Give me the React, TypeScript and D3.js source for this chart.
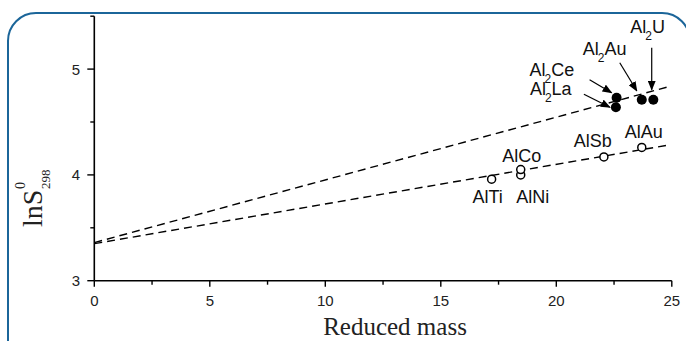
import React from 'react';
import * as d3 from 'd3';

// Al2X compounds (filled circles) and AlX compounds (open circles)
const filledNames = ['La', 'Ce', 'Au', 'U'];
const filledX = [22.58, 22.61, 23.7, 24.2];
const filledY = [4.64, 4.73, 4.71, 4.71];

const openNames = ['AlTi', 'AlNi', 'AlCo', 'AlSb', 'AlAu'];
const openX = [17.2, 18.46, 18.46, 22.06, 23.7];
const openY = [3.96, 4.0, 4.05, 4.17, 4.26];

// dashed fit lines
const fitX = [0, 24.8];
const upperFitY = [3.36, 4.83];
const lowerFitY = [3.35, 4.28];

const xTicks = [0, 5, 10, 15, 20, 25];
const yTicks = [3, 4, 5];

// label offsets from each point (px)
const filledLabelOff = [[-86, -12], [-87, -22], [-59, -45], [-23, -67]];
const filledArrowOff = [
  [[-32, -13], [-6, 0]],
  [[-27, -18], [-5, -5]],
  [[-22, -37], [-5, -9]],
  [[-1.6, -52], [-1.6, -10]],
];
const openLabelOff = [[-4, 24], [12, 28], [1, -8], [-11, -10], [2, -9]];

function App() {
  const x = d3.scaleLinear().domain([0, 25]).range([94.3, 671.8]);
  const y = d3.scaleLinear().domain([3, 5.5]).range([280.7, 16.2]);
  const fit = (ys: number[]) =>
    d3.line<number>().x((d) => x(d)).y((d, i) => y(ys[i]))(fitX) || '';

  const minorX = d3.range(2.5, 25, 5);
  const minorY = d3.range(3.5, 5.6, 1);
  const sans = "'Liberation Sans', Arial, sans-serif";
  const serif = "'Liberation Serif', 'Times New Roman', serif";

  return (
    <svg width={686} height={341} style={{ position: 'absolute', left: 0, top: 0 }}>
      <defs>
        <marker id="arr" markerUnits="userSpaceOnUse" markerWidth={10} markerHeight={8}
          refX={9} refY={4} orient="auto">
          <path d="M0,0 L10,4 L0,8 Z" fill="#000" />
        </marker>
      </defs>
      <rect x={8} y={13} width={682} height={420} rx={28} ry={28}
        fill="none" stroke="#1b6599" strokeWidth={2} />

      {/* fit lines */}
      <path d={fit(upperFitY)} fill="none" stroke="#000" strokeWidth={1.4} strokeDasharray="8,5" />
      <path d={fit(lowerFitY)} fill="none" stroke="#000" strokeWidth={1.4} strokeDasharray="8,5" />

      {/* axes */}
      <line x1={x(0)} x2={x(25)} y1={y(3)} y2={y(3)} stroke="#000" strokeWidth={1.6} />
      <line x1={x(0)} x2={x(0)} y1={y(3)} y2={y(5.5)} stroke="#000" strokeWidth={1.6} />
      {xTicks.map((t) => (
        <g key={'xt' + t}>
          <line x1={x(t)} x2={x(t)} y1={y(3)} y2={y(3) + 6} stroke="#000" strokeWidth={1.4} />
          <text x={x(t)} y={306} textAnchor="middle" fontFamily={sans} fontSize={15} fill="#222">{t}</text>
        </g>
      ))}
      {minorX.map((t) => (
        <line key={'xm' + t} x1={x(t)} x2={x(t)} y1={y(3)} y2={y(3) + 4} stroke="#000" strokeWidth={1.4} />
      ))}
      {yTicks.map((t) => (
        <g key={'yt' + t}>
          <line x1={x(0) - 7} x2={x(0)} y1={y(t)} y2={y(t)} stroke="#000" strokeWidth={1.4} />
          <text x={80} y={y(t) + 5.5} textAnchor="end" fontFamily={sans} fontSize={15} fill="#222">{t}</text>
        </g>
      ))}
      {minorY.map((t) => (
        <line key={'ym' + t} x1={x(0) - 4} x2={x(0)} y1={y(t)} y2={y(t)} stroke="#000" strokeWidth={1.4} />
      ))}

      {/* axis titles */}
      <text x={395} y={335} textAnchor="middle" fontFamily={serif} fontSize={25} fill="#222">Reduced mass</text>
      <g transform="translate(42,227) rotate(-90)" fontFamily={serif} fill="#222">
        <text x={0} y={0} fontSize={28}>lnS</text>
        <text x={38} y={-17} fontSize={14}>0</text>
        <text x={38} y={8} fontSize={13}>298</text>
      </g>

      {/* open circles */}
      {openX.map((v, i) => (
        <g key={'o' + i}>
          <circle cx={x(v)} cy={y(openY[i])} r={4} fill="#fff" stroke="#000" strokeWidth={1.5} />
          <text x={x(v) + openLabelOff[i][0]} y={y(openY[i]) + openLabelOff[i][1]}
            textAnchor="middle" fontFamily={sans} fontSize={18} fill="#111">{openNames[i]}</text>
        </g>
      ))}

      {/* filled circles with arrows */}
      {filledX.map((v, i) => {
        const px = x(v);
        const py = y(filledY[i]);
        const a = filledArrowOff[i];
        return (
          <g key={'f' + i}>
            <circle cx={px} cy={py} r={5} fill="#000" />
            <line x1={px + a[0][0]} y1={py + a[0][1]} x2={px + a[1][0]} y2={py + a[1][1]}
              stroke="#000" strokeWidth={1.2} markerEnd="url(#arr)" />
            <text x={px + filledLabelOff[i][0]} y={py + filledLabelOff[i][1]}
              fontFamily={sans} fontSize={18} fill="#111">
              Al<tspan fontSize={12} dy={7} dx={-1}>2</tspan><tspan dy={-7}>{filledNames[i]}</tspan>
            </text>
          </g>
        );
      })}
    </svg>
  );
}

export default App;
